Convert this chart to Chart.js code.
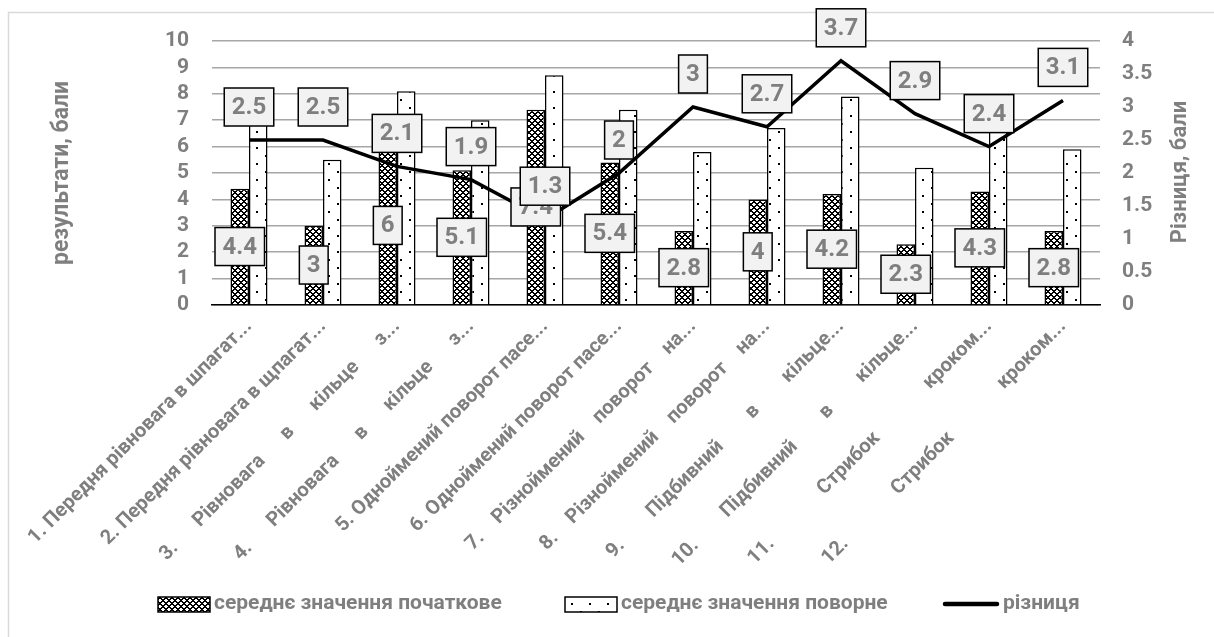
<!DOCTYPE html>
<html>
<head>
<meta charset="utf-8">
<script src="https://cdn.jsdelivr.net/npm/chart.js@4.4.1/dist/chart.umd.min.js"></script>
<style>
  html, body { margin: 0; padding: 0; background: #fff; }
  #box { width: 1214px; height: 637px; position: relative; }
</style>
</head>
<body>
<div id="box"><canvas id="grafico"></canvas></div>
<script>
// dados do gráfico
const categorias = [
    '1. Передня рівновага в шпагат...',
    '2. Передня рівновага в щпагат...',
    '3.      Рівновага      в      кільце      з...',
    '4.      Рівновага      в      кільце      з...',
    '5. Одноймений поворот пасе...',
    '6. Одноймений поворот пасе...',
    '7.    Різноймений    поворот    на...',
    '8.    Різноймений    поворот    на...',
    '9.        Підбивний        в        кільце...',
    '10.        Підбивний        в        кільце...',
    '11.              Стрибок              кроком...',
    '12.              Стрибок              кроком...'
];
const serieNomes = ['середнє значення початкове', 'середнє значення поворне', 'різниця'];
const inicial = [4.4, 3, 6, 5.1, 7.4, 5.4, 2.8, 4, 4.2, 2.3, 4.3, 2.8];
const repetido = [6.9, 5.5, 8.1, 7.0, 8.7, 7.4, 5.8, 6.7, 7.9, 5.2, 6.7, 5.9];
const diferenca = [2.5, 2.5, 2.1, 1.9, 1.3, 2, 3, 2.7, 3.7, 2.9, 2.4, 3.1];
const ticksEsq = [0, 10, 1];   // min, max, passo
const ticksDir = [0, 4, 0.5];

const cinza = '#7f7f7f';
const fonte = 'Roboto, "Liberation Sans", sans-serif';
Chart.defaults.font.family = fonte;

// padrão quadriculado (barras iniciais)
function padraoXadrez() {
    const c = document.createElement('canvas');
    c.width = 6; c.height = 6;
    const g = c.getContext('2d');
    const img = g.createImageData(6, 6);
    for (let y = 0; y < 6; y++) {
        for (let x = 0; x < 6; x++) {
            const preto = ((x + y) % 6) < 2 || ((x - y + 6) % 6) < 2;
            const k = (y * 6 + x) * 4;
            const v = preto ? 0 : 255;
            img.data[k] = v; img.data[k + 1] = v; img.data[k + 2] = v; img.data[k + 3] = 255;
        }
    }
    g.putImageData(img, 0, 0);
    return g.createPattern(c, 'repeat');
}

// padrão pontilhado (barras repetidas)
function padraoPontos() {
    const c = document.createElement('canvas');
    c.width = 18; c.height = 16;
    const g = c.getContext('2d');
    g.fillStyle = '#fff';
    g.fillRect(0, 0, 18, 16);
    g.fillStyle = '#000';
    g.fillRect(4, 3, 2, 2);
    g.fillRect(13, 11, 2, 2);
    return g.createPattern(c, 'repeat');
}

const xadrez = padraoXadrez();
const pontos = padraoPontos();

function caixa(ctx, texto, x, y) {
    const w = ctx.measureText(texto).width + 15;
    const h = 38;
    ctx.fillStyle = '#f2f2f2';
    ctx.fillRect(x - w / 2, y - h / 2, w, h);
    ctx.strokeStyle = '#000';
    ctx.lineWidth = 1.5;
    ctx.strokeRect(x - w / 2, y - h / 2, w, h);
    ctx.fillStyle = cinza;
    ctx.fillText(texto, x, y + 1);
}

// rótulos de dados em caixas
const rotulos = {
    id: 'rotulos',
    afterDatasetsDraw(chart) {
        const ctx = chart.ctx;
        ctx.save();
        ctx.font = 'bold 24px ' + fonte;
        ctx.textAlign = 'center';
        ctx.textBaseline = 'middle';
        chart.getDatasetMeta(0).data.forEach((bar, i) => {
            const p = bar.getProps(['x', 'y', 'base'], true);
            caixa(ctx, String(inicial[i]), p.x, (p.y + p.base) / 2);
        });
        chart.getDatasetMeta(2).data.forEach((pt, i) => {
            caixa(ctx, String(diferenca[i]), pt.x, pt.y - 33);
        });
        ctx.restore();
    }
};

// moldura, títulos dos eixos e legenda
const extras = {
    id: 'extras',
    beforeDraw(chart) {
        const ctx = chart.ctx;
        ctx.save();
        ctx.fillStyle = '#fff';
        ctx.fillRect(0, 0, chart.width, chart.height);
        ctx.strokeStyle = '#d9d9d9';
        ctx.lineWidth = 1.5;
        ctx.strokeRect(8.5, 12.5, chart.width + 20, chart.height + 20);
        ctx.restore();
    },
    afterDraw(chart) {
        const ctx = chart.ctx;
        ctx.save();
        ctx.fillStyle = cinza;
        ctx.font = 'bold 23px ' + fonte;
        ctx.textAlign = 'center';
        ctx.textBaseline = 'middle';
        ctx.translate(62, 173);
        ctx.rotate(-Math.PI / 2);
        ctx.fillText('результати, бали', 0, 0);
        ctx.restore();

        ctx.save();
        ctx.fillStyle = cinza;
        ctx.font = 'bold 22px ' + fonte;
        ctx.textAlign = 'center';
        ctx.textBaseline = 'middle';
        ctx.translate(1180, 172);
        ctx.rotate(-Math.PI / 2);
        ctx.fillText('Різниця, бали', 0, 0);
        ctx.restore();

        // legenda
        ctx.save();
        ctx.font = 'bold 21px ' + fonte;
        ctx.textBaseline = 'middle';
        ctx.textAlign = 'left';
        const ly = 604;
        const xs = [158, 565, 943];
        [xadrez, pontos].forEach((pad, i) => {
            ctx.fillStyle = pad;
            ctx.fillRect(xs[i], ly - 7, 52, 15);
            ctx.strokeStyle = '#000';
            ctx.lineWidth = 1.5;
            ctx.strokeRect(xs[i], ly - 7, 52, 15);
            ctx.fillStyle = cinza;
            ctx.fillText(serieNomes[i], xs[i] + 56, ly);
        });
        ctx.strokeStyle = '#000';
        ctx.lineWidth = 4.5;
        ctx.lineCap = 'round';
        ctx.beginPath();
        ctx.moveTo(xs[2] + 2, ly);
        ctx.lineTo(xs[2] + 54, ly);
        ctx.stroke();
        ctx.fillStyle = cinza;
        ctx.fillText(serieNomes[2], xs[2] + 60, ly);
        ctx.restore();
    }
};

const ctx = document.getElementById('grafico').getContext('2d');

const meuGrafico = new Chart(ctx, {
    type: 'bar',
    data: {
        labels: categorias,
        datasets: [{
            label: serieNomes[0],
            data: inicial,
            backgroundColor: xadrez,
            borderColor: '#000',
            borderWidth: 1.5,
            yAxisID: 'y',
            order: 2
        }, {
            label: serieNomes[1],
            data: repetido,
            backgroundColor: pontos,
            borderColor: '#000',
            borderWidth: 1.5,
            yAxisID: 'y',
            order: 2
        }, {
            type: 'line',
            label: serieNomes[2],
            data: diferenca,
            borderColor: '#000',
            borderWidth: 3.5,
            pointRadius: 0,
            tension: 0,
            yAxisID: 'y1',
            order: 1
        }]
    },
    options: {
        responsive: true,
        maintainAspectRatio: false,
        animation: false,
        locale: 'en-US',
        layout: { padding: { top: 41, left: 0, right: 0, bottom: 0 } },
        datasets: { bar: { categoryPercentage: 0.5, barPercentage: 1 } },
        plugins: {
            legend: { display: false },
            tooltip: { enabled: false }
        },
        scales: {
            x: {
                grid: { display: false },
                border: { color: '#000', width: 1.5 },
                ticks: {
                    color: cinza,
                    font: { size: 20, weight: 'bold' },
                    autoSkip: false,
                    maxRotation: 45,
                    minRotation: 45,
                    padding: 2
                },
                afterFit(s) { s.height = 332; }
            },
            y: {
                position: 'left',
                min: ticksEsq[0],
                max: ticksEsq[1],
                grid: { color: '#a6a6a6', lineWidth: 1.5, drawTicks: false },
                border: { display: false },
                ticks: {
                    stepSize: ticksEsq[2],
                    autoSkip: false,
                    color: cinza,
                    font: { size: 21, weight: 'bold' },
                    padding: 23
                },
                afterFit(s) { s.width = 212; }
            },
            y1: {
                position: 'right',
                min: ticksDir[0],
                max: ticksDir[1],
                grid: { display: false, drawTicks: false },
                border: { display: false },
                ticks: {
                    stepSize: ticksDir[2],
                    autoSkip: false,
                    color: cinza,
                    font: { size: 21, weight: 'bold' },
                    padding: 22,
                    callback: v => String(v)
                },
                afterFit(s) { s.width = 114; }
            }
        }
    },
    plugins: [rotulos, extras]
});
</script>
</body>
</html>
